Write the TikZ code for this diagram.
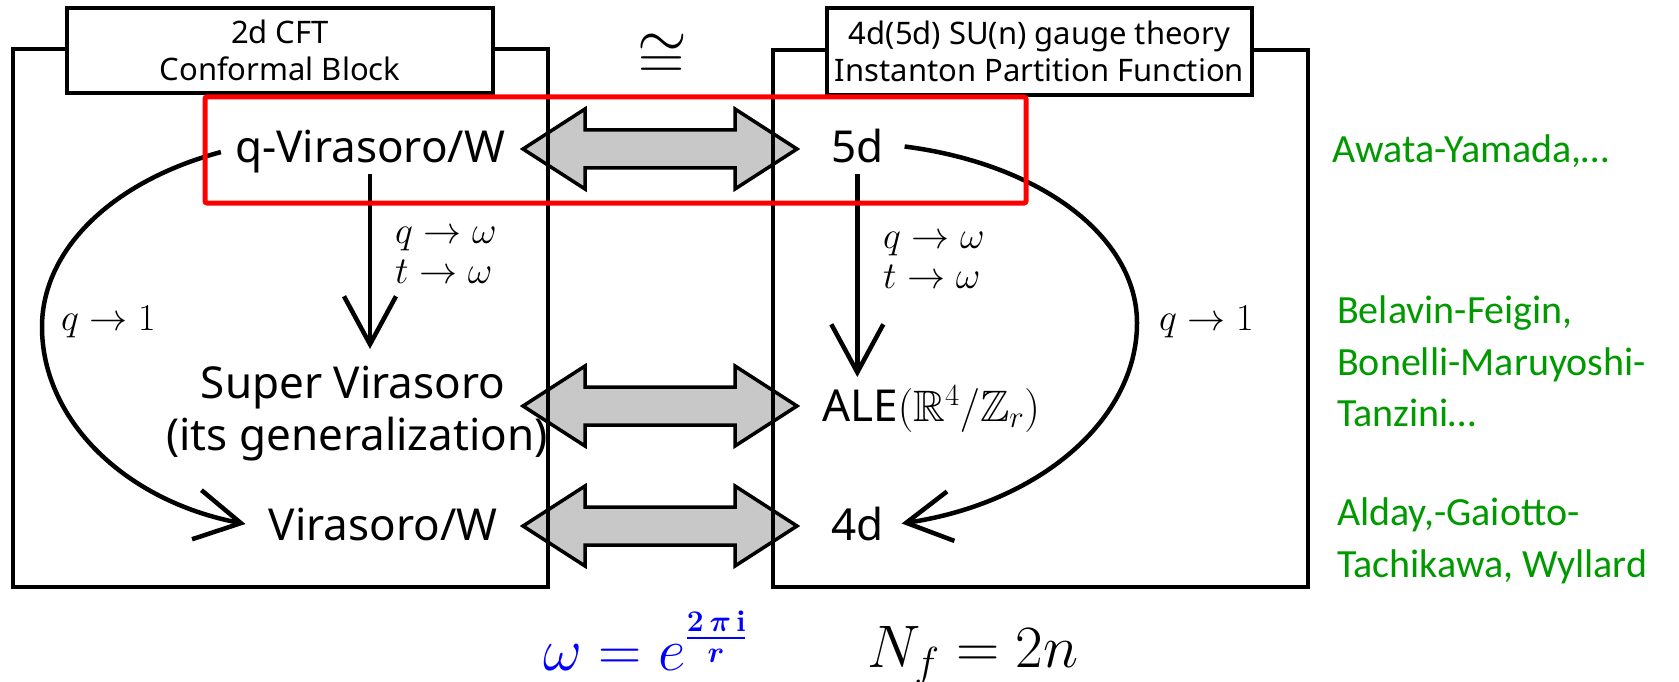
\RequirePackage{fix-cm}
\documentclass[tikz,border=0pt]{standalone}
\usepackage{amsmath,amssymb}
\usepackage{fontspec}
\newfontfamily\gothic{Noto Sans}
\newfontfamily\calib{Carlito}
\usetikzlibrary{arrows.meta}
\definecolor{citegreen}{RGB}{0,153,0}
\definecolor{arrowgray}{RGB}{200,200,200}
\definecolor{hired}{RGB}{255,0,0}
\definecolor{omegablue}{RGB}{0,0,255}

\begin{document}
\begin{tikzpicture}[
    x=1pt, y=-1pt,
    panel/.style={draw=black, line width=4pt},
    titlebox/.style={draw=black, line width=4.5pt, fill=white, inner sep=0pt, align=center, font=\gothic\fontsize{31}{37}\selectfont},
    algname/.style={inner sep=0pt, font=\gothic\fontsize{44}{50}\selectfont},
    limit/.style={inner sep=0pt, align=left, font=\fontsize{38}{40}\selectfont},
    cite/.style={inner sep=0pt, align=left, text=citegreen, font=\calib\fontsize{40}{51.5}\selectfont},
    param/.style={inner sep=0pt, anchor=base west, font=\fontsize{60}{60}\selectfont},
    dblarrow/.style={draw=black, line width=3.5pt, fill=arrowgray, line join=miter},
    vlimit/.style={line width=4.5pt, -{Straight Barb[length=48pt, width=52pt]}},
    sweep/.style={line width=4.5pt, -{Straight Barb[length=45pt, width=50pt]}},
    hilite/.style={draw=hired, line width=5pt, rounded corners=2pt}
]
\useasboundingbox (0,0) rectangle (1679,682);

% --- correspondence arrows (behind the panels) ---
\foreach \yy in {149,406,526}
    \draw[dblarrow] (523,\yy) -- (585,\yy-40) -- (585,\yy-19) -- (735,\yy-19) -- (735,\yy-40)
        -- (797,\yy) -- (735,\yy+40) -- (735,\yy+19) -- (585,\yy+19) -- (585,\yy+40) -- cycle;

% --- panels ---
\draw[panel] (13,49) rectangle (548,587);
\draw[panel] (773,50) rectangle (1308,587);
\node[titlebox, minimum width=426pt, minimum height=85pt] (cfttitle) at (280,50.5) {2d CFT\\Conformal Block};
\node[titlebox, minimum width=425pt, minimum height=87pt] (gaugetitle) at (1039.5,51.5) {4d(5d) SU(n) gauge theory\\Instanton Partition Function};
\node[inner sep=0pt, font=\fontsize{64}{64}\selectfont] (iso) at (662,57) {$\cong$};

% --- 2d side ---
\node[algname, anchor=base] (qvir) at (370,163) {q-Virasoro/W};
\node[algname, anchor=base] (supvir) at (353,398) {Super Virasoro};
\node[algname, anchor=base] (itsgen) at (357,450) {(its generalization)};
\node[algname, anchor=base] (vir) at (383,540) {Virasoro/W};

% --- gauge side ---
\node[algname, anchor=base west] (fived) at (831,163) {5d};
\node[algname, anchor=base west] (ale) at (822,421) {ALE$(\mathbb{R}^4/\mathbb{Z}_r)$};
\node[algname, anchor=base west] (fourd) at (831,540) {4d};

% --- root of unity limits ---
\coordinate (ltip) at (370,349);
\coordinate (rtip) at (858,377);
\draw[vlimit] (qvir.south) -- (qvir.south |- ltip);
\draw[vlimit, shorten <=10pt] (fived.south) -- (fived.south |- rtip);
\node[limit, anchor=west] (lomega) at (395,255) {$q\to\omega$\\$t\to\omega$};
\node[limit, anchor=west] (romega) at (883,260) {$q\to\omega$\\$t\to\omega$};

% --- q -> 1 limits ---
\draw[sweep] ([xshift=-14pt]qvir.west) .. controls (113,181) and (42,249) .. (42,327)
    .. controls (42,420) and (125,501) .. ([xshift=-23pt]vir.west);
\draw[sweep] ([xshift=21pt]fived.east) .. controls (1041,164) and (1137,237) .. (1137,323)
    .. controls (1137,420) and (1039,503) .. ([xshift=18pt]fourd.east);
\node[limit, anchor=base west] (lone) at (61,330) {$q\to1$};
\node[limit, anchor=base west] (rone) at (1159,330) {$q\to1$};

% --- references ---
\node[cite, anchor=base west] (awata) at (1332,163) {Awata-Yamada,…};
\node[cite, anchor=north west] (belavin) at (1337,296) {Belavin-Feigin,\\Bonelli-Maruyoshi-\\Tanzini…};
\node[cite, anchor=north west] (alday) at (1337,498) {Alday,-Gaiotto-\\Tachikawa, Wyllard};

% --- parameters ---
\node[param, text=omegablue] (omega) at (543,670)
    {$\omega = e^{\frac{\boldsymbol{2\,\pi\,\mathrm{i}}}{\boldsymbol{r}}}$};
\node[param] (nf) at (867,667) {$N_f = 2n$};

% --- 5d row highlighted ---
\draw[hilite] (205,97) rectangle (1026,203);
\end{tikzpicture}
\end{document}
